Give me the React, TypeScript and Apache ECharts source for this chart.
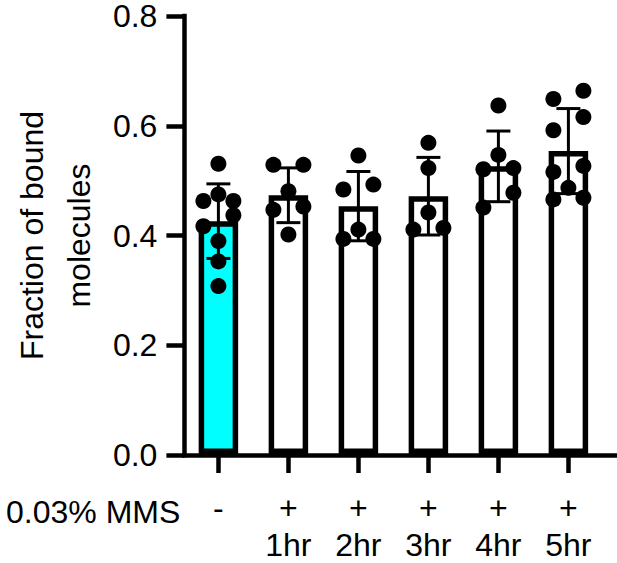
import React, { useEffect, useRef } from "react";
import * as echarts from "echarts";

// ---- Data ----
const categories: string[] = ["-", "+\n1hr", "+\n2hr", "+\n3hr", "+\n4hr", "+\n5hr"];
const yTicks: number[] = [0, 0.2, 0.4, 0.6, 0.8];
const groupTitle = "0.03% MMS";
const yName = "Fraction of bound\nmolecules";

const ctrl: number[] = [0.529, 0.473, 0.461, 0.461, 0.435, 0.415, 0.388, 0.351, 0.306];
const hr1: number[] = [0.527, 0.527, 0.479, 0.451, 0.445, 0.4];
const hr2: number[] = [0.544, 0.491, 0.482, 0.409, 0.392, 0.392];
const hr3: number[] = [0.567, 0.521, 0.44, 0.412, 0.409];
const hr4: number[] = [0.635, 0.545, 0.521, 0.519, 0.476, 0.449];
const hr5: number[] = [0.662, 0.647, 0.614, 0.59, 0.525, 0.514, 0.485, 0.467, 0.464];

const groups: number[][] = [ctrl, hr1, hr2, hr3, hr4, hr5];

const mean = (a: number[]) => a.reduce((s, v) => s + v, 0) / a.length;
const sd = (a: number[]) => {
  const m = mean(a);
  return Math.sqrt(a.reduce((s, v) => s + (v - m) * (v - m), 0) / (a.length - 1));
};
const means = groups.map(mean);
const sds = groups.map(sd);

const FONT = "'Liberation Sans', Arial, Helvetica, sans-serif";
const STEP = 15; // horizontal spread of dots (px)
const R = 8; // dot radius

export default function App() {
  const ref = useRef<HTMLDivElement>(null);

  useEffect(() => {
    if (!ref.current) return;
    const chart = echarts.init(ref.current, undefined, { renderer: "svg" });

    const option: any = {
      animation: false,
      backgroundColor: "#fff",
      grid: [
        { left: 183.4, right: 13.6, top: 15, bottom: 108 },
        { left: 172, right: 0, top: 15, bottom: 108 },
      ],
      xAxis: [
        {
          type: "category",
          gridIndex: 0,
          data: categories,
          axisLine: { show: false },
          axisTick: {
            show: true,
            alignWithLabel: true,
            length: 19,
            lineStyle: { color: "#000", width: 4.5 },
          },
          axisLabel: {
            interval: 0,
            color: "#000",
            fontSize: 32,
            lineHeight: 37,
            margin: 35,
            fontFamily: FONT,
          },
          splitLine: { show: false },
        },
        {
          type: "value",
          gridIndex: 1,
          min: 0,
          max: 1,
          axisLine: { show: true, onZero: false, lineStyle: { color: "#000", width: 4.5, cap: "square" } },
          axisTick: { show: false },
          axisLabel: { show: false },
          splitLine: { show: false },
        },
      ],
      yAxis: [
        {
          type: "value",
          gridIndex: 0,
          min: 0,
          max: 0.8,
          interval: 0.2,
          show: false,
        },
        {
          type: "value",
          gridIndex: 1,
          min: 0,
          max: 0.8,
          interval: 0.2,
          axisLine: { show: true, lineStyle: { color: "#000", width: 4.5, cap: "square" } },
          axisTick: { show: true, length: 18, lineStyle: { color: "#000", width: 4.5 } },
          axisLabel: {
            color: "#000",
            fontSize: 32,
            lineHeight: 26,
            margin: 27,
            fontFamily: FONT,
            formatter: (v: number) => v.toFixed(1),
            customValues: yTicks,
          },
          splitLine: { show: false },
          name: yName,
          nameLocation: "middle",
          nameRotate: 90,
          nameGap: 76,
          nameTextStyle: { color: "#000", fontSize: 32, lineHeight: 47, fontFamily: FONT },
        },
      ],
      graphic: [
        {
          type: "text",
          x: 6,
          y: 512,
          style: {
            text: groupTitle,
            fill: "#000",
            fontSize: 32,
            fontFamily: FONT,
            verticalAlign: "middle",
            align: "left",
          },
        },
      ],
      series: [
        {
          type: "bar",
          xAxisIndex: 0,
          yAxisIndex: 0,
          barWidth: 39.5,
          z: 2,
          data: means.map((m, i) => ({
            value: m,
            itemStyle: { color: i === 0 ? "#00ffff" : "#ffffff" },
          })),
          itemStyle: { borderColor: "#000", borderWidth: 5.5 },
        },
        {
          type: "custom",
          xAxisIndex: 0,
          yAxisIndex: 0,
          z: 3,
          data: means.map((m, i) => [i, m]),
          encode: { x: 0, y: 1 },
          renderItem: (params: any, api: any) => {
            const i = params.dataIndex;
            const top = api.coord([i, means[i] + sds[i]]);
            const bot = api.coord([i, means[i] - sds[i]]);
            const style = { stroke: "#000", lineWidth: 3 };
            return {
              type: "group",
              children: [
                { type: "line", shape: { x1: top[0], y1: top[1], x2: bot[0], y2: bot[1] }, style },
                { type: "line", shape: { x1: top[0] - 12, y1: top[1], x2: top[0] + 12, y2: top[1] }, style },
                { type: "line", shape: { x1: bot[0] - 12, y1: bot[1], x2: bot[0] + 12, y2: bot[1] }, style },
              ],
            };
          },
        },
        {
          type: "custom",
          xAxisIndex: 0,
          yAxisIndex: 0,
          z: 4,
          data: means.map((m, i) => [i, m]),
          encode: { x: 0, y: 1 },
          renderItem: (params: any, api: any) => {
            const i = params.dataIndex;
            const vals = [...groups[i]].sort((a, b) => b - a);
            const pts = vals.map((v) => api.coord([i, v]));
            const rows: number[][][] = [];
            let cur: number[][] = [];
            pts.forEach((p: number[]) => {
              if (cur.length && p[1] - cur[0][1] >= 15) {
                rows.push(cur);
                cur = [];
              }
              cur.push(p);
            });
            if (cur.length) rows.push(cur);
            const children: any[] = [];
            rows.forEach((row) => {
              const n = row.length;
              const offs: number[] = [];
              if (n % 2 === 1) offs.push(0);
              for (let k = 1; offs.length < n; k++) {
                offs.push(k * STEP);
                if (offs.length < n) offs.push(-k * STEP);
              }
              row.forEach((p, j) => {
                children.push({
                  type: "circle",
                  shape: { cx: p[0] + offs[j], cy: p[1], r: R },
                  style: { fill: "#000" },
                });
              });
            });
            return { type: "group", children };
          },
        },
      ],
    };

    chart.setOption(option);
    return () => chart.dispose();
  }, []);

  return (
    <div
      ref={ref}
      style={{ position: "fixed", left: 0, top: 0, width: 617, height: 563, background: "#fff" }}
    />
  );
}
